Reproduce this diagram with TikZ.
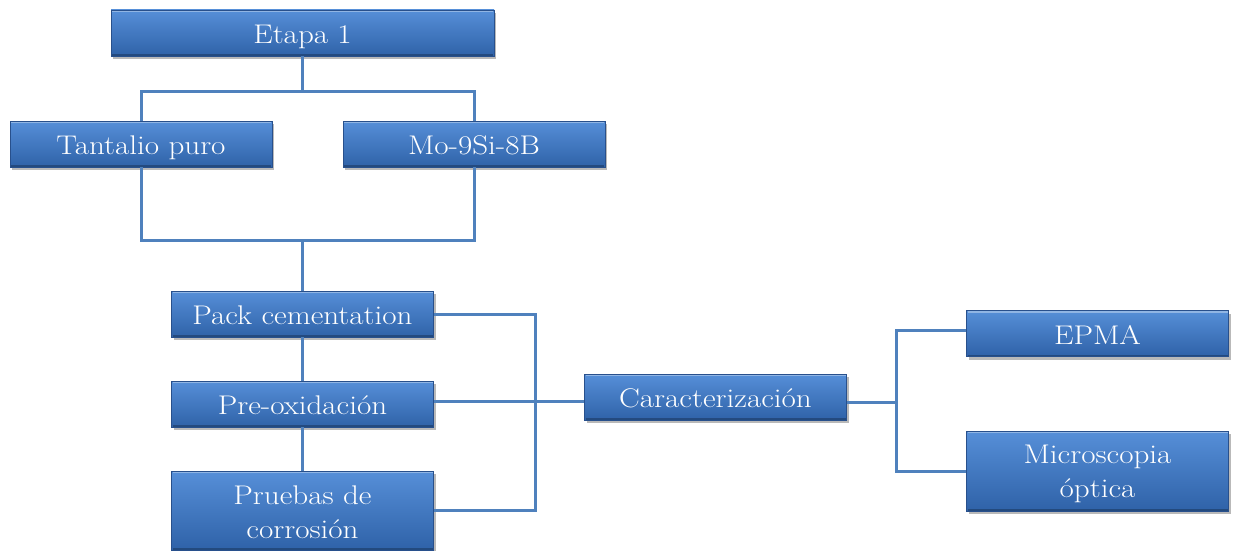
\documentclass[tikz,border=0pt]{standalone}
\usepackage{fontspec}
\setmainfont[FakeStretch=1.15]{Latin Modern Roman}
\usetikzlibrary{shadows}
\definecolor{boxtop}{RGB}{86,143,216}
\definecolor{boxbot}{RGB}{47,98,168}
\definecolor{boxedge}{RGB}{40,80,140}
\definecolor{conncol}{RGB}{79,129,189}
\newcommand\mytopstrut{\rule{0pt}{24pt}}
\newcommand\mybotstrut{\rule[-3pt]{0pt}{3pt}}
\tikzset{
  box/.style={rectangle, top color=boxtop, bottom color=boxbot, draw=boxedge, line width=0.6pt,
    text=white, align=center, inner sep=0pt, minimum width=262pt, minimum height=46pt,
    text height=24pt, text depth=3pt,
    font=\fontsize{27}{34}\selectfont,
    path picture={
      \draw[white, opacity=0.35, line width=2pt]
        ([xshift=1pt,yshift=-1pt]path picture bounding box.north west) --
        ([xshift=-1pt,yshift=-1pt]path picture bounding box.north east);
      \draw[black, opacity=0.25, line width=2pt]
        ([xshift=1pt,yshift=1pt]path picture bounding box.south west) --
        ([xshift=-1pt,yshift=1pt]path picture bounding box.south east);
    },
    drop shadow={shadow xshift=2pt, shadow yshift=-3pt, fill=black!55, opacity=0.5}},
  tallbox/.style={box, text height={}, text depth={}, minimum height=80pt},
  conn/.style={draw=conncol, line width=3pt}
}
\begin{document}
\begin{tikzpicture}[x=1pt,y=-1pt]
\useasboundingbox (0,0) rectangle (1234,551);
\node[box, minimum width=383pt] (etapa) at (302.5,33) {Etapa 1};
\node[box] (tant) at (141,144) {Tantalio puro};
\node[box] (mo) at (474,144) {Mo-9Si-8B};
\node[box] (pack) at (302.5,314) {Pack cementation};
\node[box] (pre) at (302.5,404) {Pre-oxidación};
\node[tallbox, minimum height=79pt] (prue) at (302.5,510.5) {\mytopstrut Pruebas de\\corrosión\mybotstrut};
\node[box] (cara) at (715.5,397) {Caracterización};
\node[box] (epma) at (1097.5,333.5) {EPMA};
\node[tallbox] (micro) at (1097.5,471) {\mytopstrut Microscopia\\óptica\mybotstrut};
% connectors
\draw[conn] (etapa.south) -- ++(0,35) coordinate (j1);
\draw[conn] (tant.north) |- (j1) -| (mo.north);
\draw[conn] (tant.south) -- ++(0,73) coordinate (j2) -| (mo.south);
\draw[conn] (pack.north) -- ++(0,-51);
\draw[conn] (pack.south) -- (pre.north);
\draw[conn] (pre.south) -- (prue.north);
\draw[conn] (pack.east) -- ++(102,0) coordinate (b1) |- (prue.east);
\draw[conn] ([yshift=3pt]pre.east) -- ([yshift=3pt]cara.west |- pre.east);
\draw[conn] ([yshift=-5pt]cara.east) -- ++(50,0) coordinate (c1);
\draw[conn] ([yshift=3pt]epma.west) -| (c1) |- (micro.west);
\end{tikzpicture}
\end{document}
